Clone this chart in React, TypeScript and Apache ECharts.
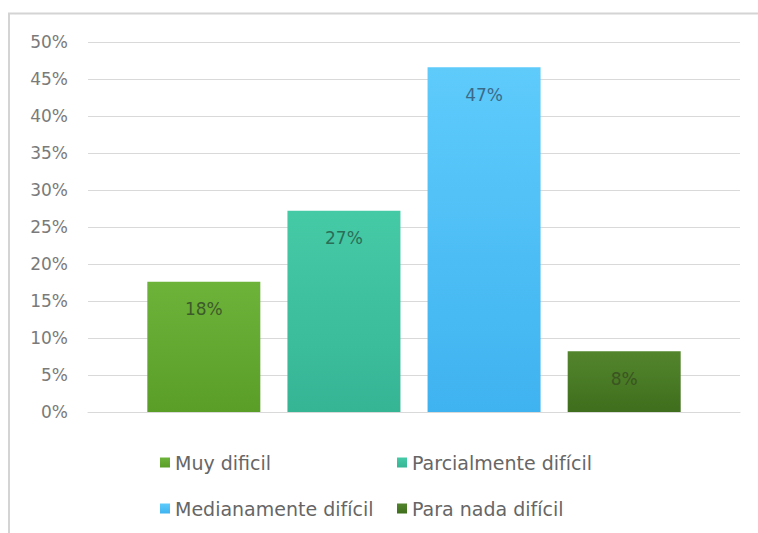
import React, { useEffect, useRef } from "react";
import * as echarts from "echarts";

const categories = [""];
const seriesNames = ["Muy dificil", "Parcialmente difícil", "Medianamente difícil", "Para nada difícil"];
const seriesValues = [17.6, 27.2, 46.6, 8.2];
const yTicks = { min: 0, max: 50, interval: 5 };

const barColors = [
  ["#6db33a", "#5a9e27"],
  ["#45caa6", "#36b595"],
  ["#5ecbfb", "#3fb3f0"],
  ["#53852d", "#3f6e1c"],
];
const labelColors = ["#3d5a2a", "#2a6e58", "#3b6a88", "#3a5422"];
const legendPos = [
  { left: 160, top: 453 },
  { left: 397, top: 453 },
  { left: 160, top: 499 },
  { left: 397, top: 499 },
];

export default function App() {
  const ref = useRef<HTMLDivElement>(null);
  useEffect(() => {
    if (!ref.current) return;
    const chart = echarts.init(ref.current, undefined, { renderer: "svg" });
    const font = "DejaVu Sans";
    chart.setOption({
      animation: false,
      backgroundColor: "#ffffff",
      grid: { left: 88, right: 18, top: 42, bottom: 121 },
      xAxis: {
        type: "category",
        data: categories,
        axisLine: { show: true, lineStyle: { color: "#d9d9d9", width: 1 } },
        axisTick: { show: false },
        axisLabel: { show: false },
      },
      yAxis: {
        type: "value",
        min: yTicks.min,
        max: yTicks.max,
        interval: yTicks.interval,
        axisLine: { show: false },
        axisTick: { show: false },
        splitLine: { lineStyle: { color: "#d9d9d9", width: 1 } },
        axisLabel: {
          formatter: "{value}%",
          color: "#7a7a7a",
          fontFamily: font,
          fontSize: 17,
          margin: 20,
        },
      },
      legend: seriesNames.map((name, i) => ({
        data: [name],
        left: legendPos[i].left,
        top: legendPos[i].top,
        icon: "rect",
        itemWidth: 10,
        itemHeight: 10,
        padding: 0,
        selectedMode: false,
        textStyle: { color: "#666666", fontFamily: font, fontSize: 19 },
      })),
      graphic: [
        {
          type: "rect",
          shape: { x: 9, y: 13.5, width: 900, height: 700 },
          style: { fill: "none", stroke: "#d4d4d4", lineWidth: 2 },
          silent: true,
        },
      ],
      series: seriesNames.map((name, i) => ({
        name,
        type: "bar",
        data: [seriesValues[i]],
        barWidth: 113,
        barGap: "24%",
        itemStyle: {
          color: new echarts.graphic.LinearGradient(0, 0, 0, 1, [
            { offset: 0, color: barColors[i][0] },
            { offset: 1, color: barColors[i][1] },
          ]),
        },
        label: {
          show: true,
          position: "insideTop",
          distance: 19,
          formatter: (p: any) => Math.round(p.value) + "%",
          color: labelColors[i],
          fontFamily: font,
          fontSize: 17,
        },
      })),
    });
    return () => chart.dispose();
  }, []);
  return (
    <div
      ref={ref}
      style={{ position: "fixed", left: 0, top: 0, width: 758, height: 533 }}
    />
  );
}
